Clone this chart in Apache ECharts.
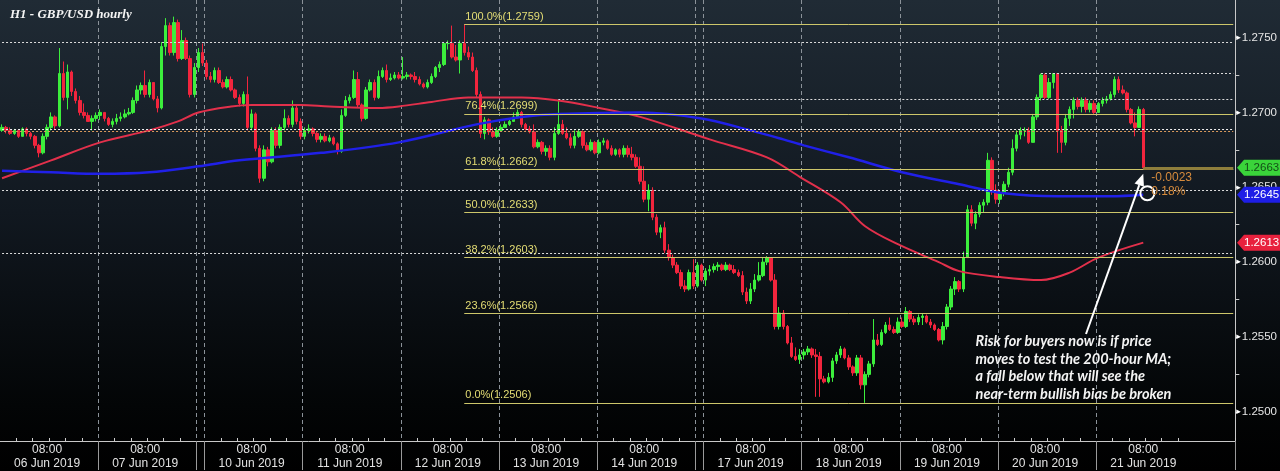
<!DOCTYPE html>
<html><head><meta charset="utf-8">
<script src="https://cdn.jsdelivr.net/npm/echarts@6/dist/echarts.min.js"></script>
<style>html,body{margin:0;padding:0;background:#000;}#c{width:1280px;height:471px;}</style>
</head><body><div id="c"></div>
<script>
// ---------------- data ----------------
const firstOpen = 1.2688;
const closes = [
1.2690,1.2688,1.2686,1.2688,1.2684,1.2689,1.2686,1.2684,1.2678,1.2673,1.2684,1.2690,1.2697,1.2691,1.2726,1.2710,1.2727,1.2714,1.2708,1.2700,1.2698,1.2694,1.2696,1.2698,
1.2700,1.2696,1.2692,1.2694,1.2696,1.2697,1.2699,1.2700,1.2708,1.2715,1.2718,1.2712,1.2720,1.2709,1.2703,1.2744,1.2758,1.2740,1.2760,1.2736,1.2748,1.2736,1.2712,1.2730,
1.2740,1.2733,
1.2724,1.2722,1.2728,1.2720,1.2717,1.2722,1.2715,1.2710,1.2706,1.2712,1.2690,1.2699,1.2676,1.2656,1.2675,1.2667,1.2688,1.2678,1.2690,1.2696,1.2692,1.2703,1.2694,1.2684,
1.2688,1.2689,1.2686,1.2682,1.2684,1.2681,1.2683,1.2679,1.2674,1.2698,1.2708,1.2710,1.2722,1.2705,1.2696,1.2715,1.2720,1.2710,1.2724,1.2728,1.2722,1.2723,1.2725,1.2723,
1.2724,1.2725,1.2724,1.2722,1.2719,1.2717,1.2720,1.2724,1.2730,1.2732,1.2746,1.2746,1.2737,1.2735,1.2746,1.2740,1.2737,1.2728,1.2712,1.2686,1.2695,1.2687,1.2684,1.2688,
1.2690,1.2692,1.2694,1.2697,1.2700,1.2692,1.2689,1.2687,1.2677,1.2680,1.2674,1.2676,1.2670,1.2686,1.2692,1.2686,1.2683,1.2678,1.2684,1.2687,1.2678,1.2675,1.2680,1.2673,
1.2680,1.2681,1.2676,1.2672,1.2675,1.2672,1.2676,1.2672,1.2670,1.2664,1.2654,1.2642,1.2648,1.2630,1.2620,1.2623,1.2608,1.2603,1.2598,1.2593,1.2584,1.2582,1.2593,1.2584,
1.2598,1.2588,
1.2594,1.2595,1.2597,1.2598,1.2595,1.2598,1.2595,1.2593,1.2591,1.2580,1.2574,1.2582,1.2588,1.2591,1.2600,1.2603,1.2588,1.2557,1.2566,1.2557,1.2546,1.2537,1.2535,1.2538,
1.2540,1.2542,1.2538,1.2537,1.2522,1.2520,1.2523,1.2534,1.2538,1.2542,1.2536,1.2530,1.2526,1.2536,1.2518,1.2525,1.2532,1.2548,1.2545,1.2553,1.2558,1.2555,1.2553,1.2560,
1.2557,1.2567,1.2562,1.2560,1.2563,1.2564,1.2560,1.2558,1.2555,1.2548,1.2557,1.2570,1.2582,1.2587,1.2582,1.2603,1.2635,1.2626,1.2632,1.2638,1.2640,1.2668,1.2648,1.2642,
1.2646,1.2652,1.2660,1.2676,1.2685,1.2688,1.2688,1.2680,1.2697,1.2710,1.2725,1.2710,1.2720,1.2726,1.2688,1.2680,1.2696,1.2702,1.2708,1.2704,1.2708,1.2702,1.2706,1.2700,
1.2706,1.2708,1.2709,1.2712,1.2722,1.2715,1.2713,1.2702,1.2693,1.2690,1.2702,1.2663
];
const highs = [
1.2692,1.2691,1.2690,1.2689,1.2688,1.2690,1.2690,1.2687,1.2685,1.2679,1.2686,1.2692,1.2700,1.2698,1.2743,1.2734,1.2732,1.2728,1.2716,1.2711,1.2706,1.2700,1.2698,1.2700,
1.2702,1.2700,1.2697,1.2696,1.2699,1.2700,1.2702,1.2703,1.2710,1.2718,1.2720,1.2728,1.2722,1.2720,1.2711,1.2747,1.2763,1.2760,1.2764,1.2762,1.2755,1.2750,1.2738,1.2733,
1.2743,1.2746,
1.2735,1.2727,1.2730,1.2730,1.2722,1.2724,1.2724,1.2716,1.2712,1.2714,1.2724,1.2702,1.2700,1.2678,1.2678,1.2677,1.2690,1.2690,1.2692,1.2702,1.2698,1.2708,1.2705,1.2696,
1.2690,1.2692,1.2690,1.2687,1.2686,1.2686,1.2685,1.2684,1.2680,1.2702,1.2711,1.2712,1.2728,1.2727,1.2706,1.2717,1.2722,1.2722,1.2728,1.2730,1.2732,1.2726,1.2727,1.2727,
1.2737,1.2727,1.2726,1.2727,1.2724,1.2720,1.2722,1.2726,1.2731,1.2734,1.2747,1.2748,1.2758,1.2745,1.2748,1.2759,1.2744,1.2740,1.2730,1.2714,1.2697,1.2696,1.2690,1.2690,
1.2692,1.2694,1.2696,1.2700,1.2702,1.2701,1.2693,1.2691,1.2692,1.2682,1.2681,1.2678,1.2678,1.2690,1.2708,1.2695,1.2690,1.2686,1.2688,1.2689,1.2688,1.2680,1.2682,1.2681,
1.2682,1.2683,1.2682,1.2678,1.2676,1.2676,1.2678,1.2678,1.2677,1.2672,1.2670,1.2664,1.2652,1.2650,1.2632,1.2625,1.2627,1.2612,1.2605,1.2600,1.2595,1.2588,1.2595,1.2602,
1.2600,1.2599,
1.2596,1.2598,1.2599,1.2600,1.2599,1.2600,1.2599,1.2598,1.2595,1.2594,1.2583,1.2586,1.2592,1.2600,1.2603,1.2604,1.2603,1.2592,1.2570,1.2568,1.2558,1.2550,1.2543,1.2542,
1.2542,1.2544,1.2543,1.2542,1.2540,1.2524,1.2526,1.2536,1.2540,1.2544,1.2543,1.2538,1.2531,1.2538,1.2538,1.2527,1.2534,1.2562,1.2552,1.2555,1.2560,1.2563,1.2557,1.2563,
1.2563,1.2570,1.2568,1.2564,1.2565,1.2566,1.2565,1.2562,1.2559,1.2556,1.2560,1.2572,1.2584,1.2590,1.2588,1.2607,1.2638,1.2638,1.2634,1.2640,1.2642,1.2673,1.2670,1.2652,
1.2648,1.2654,1.2663,1.2682,1.2688,1.2690,1.2690,1.2690,1.2699,1.2712,1.2726,1.2726,1.2723,1.2726,1.2726,1.2691,1.2699,1.2704,1.2710,1.2710,1.2710,1.2710,1.2708,1.2708,
1.2707,1.2710,1.2711,1.2714,1.2724,1.2724,1.2718,1.2714,1.2703,1.2700,1.2704,1.2703
];
const lows = [
1.2687,1.2686,1.2685,1.2685,1.2683,1.2684,1.2684,1.2682,1.2676,1.2670,1.2672,1.2682,1.2688,1.2689,1.2690,1.2708,1.2702,1.2711,1.2706,1.2698,1.2696,1.2694,1.2688,1.2694,
1.2695,1.2694,1.2691,1.2690,1.2692,1.2694,1.2696,1.2698,1.2699,1.2706,1.2712,1.2710,1.2710,1.2708,1.2700,1.2702,1.2738,1.2738,1.2738,1.2734,1.2735,1.2735,1.2710,1.2710,
1.2727,1.2731,
1.2722,1.2720,1.2720,1.2719,1.2716,1.2716,1.2714,1.2709,1.2704,1.2704,1.2688,1.2688,1.2674,1.2653,1.2654,1.2664,1.2666,1.2676,1.2676,1.2688,1.2690,1.2690,1.2692,1.2682,
1.2682,1.2686,1.2684,1.2680,1.2680,1.2680,1.2680,1.2678,1.2672,1.2673,1.2697,1.2706,1.2709,1.2703,1.2694,1.2695,1.2714,1.2708,1.2709,1.2723,1.2720,1.2721,1.2722,1.2722,
1.2722,1.2722,1.2722,1.2720,1.2718,1.2716,1.2716,1.2719,1.2723,1.2727,1.2731,1.2742,1.2736,1.2734,1.2726,1.2738,1.2735,1.2727,1.2710,1.2683,1.2682,1.2685,1.2683,1.2683,
1.2687,1.2690,1.2691,1.2694,1.2696,1.2690,1.2688,1.2686,1.2676,1.2676,1.2672,1.2671,1.2668,1.2668,1.2685,1.2685,1.2682,1.2676,1.2676,1.2683,1.2676,1.2674,1.2674,1.2672,
1.2672,1.2678,1.2675,1.2671,1.2671,1.2670,1.2670,1.2670,1.2668,1.2663,1.2652,1.2640,1.2634,1.2628,1.2618,1.2616,1.2606,1.2601,1.2596,1.2592,1.2582,1.2580,1.2581,1.2582,
1.2583,1.2587,
1.2584,1.2591,1.2593,1.2594,1.2594,1.2594,1.2594,1.2592,1.2590,1.2578,1.2572,1.2572,1.2580,1.2587,1.2590,1.2598,1.2587,1.2555,1.2555,1.2555,1.2545,1.2536,1.2534,1.2532,
1.2535,1.2538,1.2536,1.2510,1.2510,1.2519,1.2519,1.2520,1.2532,1.2536,1.2535,1.2528,1.2524,1.2524,1.2515,1.2506,1.2523,1.2530,1.2544,1.2544,1.2552,1.2554,1.2552,1.2552,
1.2556,1.2556,1.2560,1.2558,1.2558,1.2558,1.2559,1.2556,1.2554,1.2547,1.2545,1.2555,1.2568,1.2578,1.2580,1.2580,1.2603,1.2624,1.2622,1.2630,1.2633,1.2638,1.2645,1.2639,
1.2639,1.2644,1.2650,1.2658,1.2674,1.2682,1.2684,1.2679,1.2680,1.2695,1.2708,1.2709,1.2709,1.2716,1.2673,1.2673,1.2678,1.2691,1.2696,1.2702,1.2700,1.2700,1.2700,1.2699,
1.2700,1.2704,1.2706,1.2708,1.2710,1.2713,1.2712,1.2700,1.2692,1.2684,1.2690,1.2662
];
// moving averages read at key candles: [candle index, value]
const ma200 = [[0,1.2661],[12,1.2660],[24,1.2659],[36,1.2660],[48,1.2664],[58,1.2668],[78,1.2673],[97,1.2680],[116,1.2692],[127,1.2697],[136,1.2699],[156,1.2700],[171,1.2696],[183,1.2688],[191,1.2682],[196,1.2678],[207,1.2670],[220,1.2660],[234,1.2652],[245,1.2646],[258,1.2644],[271,1.2644],[279,1.2645]];
const ma100 = [[0,1.2656],[12,1.2668],[24,1.2680],[36,1.2688],[43,1.2694],[48,1.2700],[56,1.2704],[61,1.2705],[73,1.2705],[80,1.2704],[92,1.2703],[97,1.2704],[105,1.2707],[114,1.2710],[127,1.2710],[136,1.2708],[146,1.2703],[156,1.2697],[173,1.2682],[187,1.2670],[195,1.2657],[205,1.2640],[211,1.2624],[219,1.2612],[229,1.2600],[234,1.2594],[244,1.2590],[254,1.2588],[261,1.2593],[268,1.2603],[279,1.2613]];
const dayLabels = ['06 Jun 2019','07 Jun 2019','10 Jun 2019','11 Jun 2019','12 Jun 2019','13 Jun 2019','14 Jun 2019','17 Jun 2019','18 Jun 2019','19 Jun 2019','20 Jun 2019','21 Jun 2019'];
const hourLabel = '08:00';
const dayLabelIdx = [11,35,61,85,109,133,157,183,207,231,255,279];
const daySeparators = [24,48,50,74,98,122,146,170,172,196,220,244,268];
const dayStarts = [0,24,50,74,98,122,146,172,196,220,244,268];
const slotCount = 302;
const fibNames = ['100.0%','76.4%','61.8%','50.0%','38.2%','23.6%','0.0%'];
const fibValues = [1.2759,1.2699,1.2662,1.2633,1.2603,1.2566,1.2506];
const fibStart = 113;
const guideValues = [1.27466,1.27265,1.27085,1.26478,1.26058];
const guideStarts = [0,254,136,0,0];
const hatchValue = 1.26879;
const lastPrice = 1.2663, ma200Last = 1.2645, ma100Last = 1.2613;
const changeText = '-0.0023\n0.18%';
const yLabelValues = [1.2500,1.2550,1.2600,1.2650,1.2700,1.2750];
const yTickValues = [1.2500,1.2525,1.2550,1.2575,1.2600,1.2625,1.2650,1.2675,1.2700,1.2725,1.2750];
const titleText = 'H1 - GBP/USD hourly';
const noteText = 'Risk for buyers now is if price\nmoves to test the 200-hour MA;\na fall below that will see the\nnear-term bullish bias be broken';

// ---------------- build ----------------
const chart = echarts.init(document.getElementById('c'));
const cats = Array.from({length: slotCount}, (_, i) => String(i));
const opens = [firstOpen].concat(closes.slice(0, closes.length - 1));
const candleData = cats.map((_, i) => i < closes.length ? [opens[i], closes[i], lows[i], highs[i]] : '-');
const sepSet = new Set(daySeparators);
const labelMap = new Map(dayLabelIdx.map((d, k) => [d, k]));
const minorSet = new Set();
dayStarts.forEach(s => { for (let k = 1; k < 6; k++) minorSet.add(s + 4 * k); });

const fibLines = fibValues.map((v, k) => [
  {coord: [fibStart, v], lineStyle: {color: '#cdc66a', width: 1, type: 'solid'},
   label: {show: true, position: 'insideStartTop', distance: [1, 2], formatter: fibNames[k] + '(' + v.toFixed(4) + ')',
           color: '#e4dd74', fontSize: 11, fontFamily: 'Liberation Sans'}},
  {coord: [slotCount - 1, v]}
]);
const guideLines = guideValues.map((v, k) => [
  {coord: [guideStarts[k], v], lineStyle: {color: '#dcdcdc', width: 1, type: [2, 2]}, label: {show: false}},
  {coord: [slotCount - 1, v]}
]);
const hatch = [
  [{coord: [0, hatchValue + 0.00007], lineStyle: {color: '#f0f0f0', width: 1, type: [2, 2]}, label: {show: false}}, {coord: [slotCount - 1, hatchValue + 0.00007]}],
  [{coord: [0, hatchValue - 0.00007], lineStyle: {color: '#d99a5c', width: 1, type: [2, 2], dashOffset: 2}, label: {show: false}}, {coord: [slotCount - 1, hatchValue - 0.00007]}]
];
const priceLine = [[{coord: [closes.length - 1, lastPrice], lineStyle: {color: '#8e7e3c', width: 3, type: 'solid'}, label: {show: false}}, {coord: [slotCount - 1, lastPrice]}]];

chart.setOption({
  animation: false,
  backgroundColor: {type: 'linear', x: 0, y: 0, x2: 0, y2: 1,
    colorStops: [{offset: 0, color: '#202b35'}, {offset: 0.45, color: '#111820'}, {offset: 0.86, color: '#030506'}, {offset: 1, color: '#000000'}]},
  title: {text: titleText, left: 5, top: 3,
    textStyle: {color: '#f4f4f4', fontSize: 13, fontStyle: 'italic', fontWeight: 'bold', fontFamily: 'Liberation Serif'}},
  grid: {left: 0, right: 44, top: 0, bottom: 29},
  xAxis: [{
    type: 'category', data: cats, boundaryGap: true,
    axisLine: {lineStyle: {color: '#c8c8c8', width: 1}},
    axisTick: {show: true, interval: (i) => sepSet.has(i), length: 29, lineStyle: {color: '#9a9a9a'}},
    axisLabel: {interval: (i) => labelMap.has(i), color: '#e2e2e2', fontFamily: 'Liberation Sans', fontSize: 12, lineHeight: 14, margin: 2,
      formatter: (v, i) => labelMap.has(i) ? hourLabel + '\n' + dayLabels[labelMap.get(i)] : ''},
    splitLine: {show: true, interval: (i) => sepSet.has(i), lineStyle: {color: '#8b9299', type: [4, 3], width: 1}}
  }, {
    type: 'category', data: cats, boundaryGap: true, position: 'bottom',
    axisLine: {show: false},
    axisTick: {show: true, interval: (i) => minorSet.has(i), length: 3, inside: true, lineStyle: {color: '#cfcfcf'}},
    axisLabel: {show: false}, splitLine: {show: false}
  }],
  yAxis: {
    type: 'value', position: 'right', min: 1.24805, max: 1.27751, scale: true,
    axisLine: {show: true, lineStyle: {color: '#c8c8c8'}},
    axisTick: {show: true, customValues: yTickValues, length: 4, lineStyle: {color: '#c8c8c8'}},
    axisLabel: {customValues: yLabelValues, margin: 1,
      formatter: (v) => '{t|\u25B8}{v|' + v.toFixed(4) + '}',
      rich: {t: {fontSize: 9, color: '#ffffff', padding: [0, 1, 0, 0], fontFamily: 'DejaVu Sans'},
             v: {fontSize: 11.5, color: '#e6e6e6', fontFamily: 'Liberation Sans'}}},
    splitLine: {show: false}
  },
  series: [{
    type: 'candlestick', data: candleData, barMaxWidth: 3, barWidth: 3,
    itemStyle: {color: '#3cee3c', color0: '#f2253d', borderColor: '#3cee3c', borderColor0: '#f2253d', borderWidth: 1},
    markLine: {silent: true, symbol: ['none', 'none'], animation: false, precision: 5,
      data: [].concat(guideLines, hatch, fibLines, priceLine)}
  }, {
    type: 'line', data: ma100, smooth: 0.35, showSymbol: false, symbol: 'none', z: 4,
    lineStyle: {color: '#e2304b', width: 2}
  }, {
    type: 'line', data: ma200, smooth: 0.35, showSymbol: false, symbol: 'none', z: 4,
    lineStyle: {color: '#2020e8', width: 2.5}
  }]
});

// --------------- overlays anchored through the axes ---------------
function px(i, v) { return chart.convertToPixel({xAxisIndex: 0, yAxisIndex: 0}, [i, v]); }
const gx = chart.getWidth() - 44;
const W = chart.getWidth();
function tag(v, fill, txt) {
  const y = px(0, v)[1];
  return [
    {type: 'polygon', z: 100, shape: {points: [[gx + 1, y], [gx + 8, y - 8], [W, y - 8], [W, y + 8], [gx + 8, y + 8]]}, style: {fill: fill}},
    {type: 'text', z: 101, x: gx + 8, y: y, style: {text: v.toFixed(4), fill: txt, font: '11.5px "Liberation Sans"', align: 'left', verticalAlign: 'middle'}}
  ];
}
const tail = px(265, 1.2552), tip = px(closes.length - 1, 1.2659);
const dx = tip[0] - tail[0], dy = tip[1] - tail[1], L = Math.hypot(dx, dy), ux = dx / L, uy = dy / L;
const hl = 12, hw = 5, bx = tip[0] - ux * hl, by = tip[1] - uy * hl;
const ring = px(closes.length, 1.2646);
const chg = px(closes.length - 1, 1.2661);
const note = px(238, 1.2553);
chart.setOption({graphic: [].concat(
  tag(lastPrice, '#3ad43a', '#144d18'),
  tag(ma200Last, '#1e1ee6', '#ffffff'),
  tag(ma100Last, '#e8213d', '#ffffff'),
  [
    {type: 'line', z: 60, shape: {x1: tail[0], y1: tail[1], x2: bx, y2: by}, style: {stroke: '#ffffff', lineWidth: 2}},
    {type: 'polygon', z: 60, shape: {points: [[tip[0], tip[1]], [bx - uy * hw, by + ux * hw], [bx + uy * hw, by - ux * hw]]}, style: {fill: '#ffffff'}},
    {type: 'circle', z: 60, shape: {cx: ring[0], cy: ring[1], r: 7}, style: {fill: 'none', stroke: '#ffffff', lineWidth: 2}},
    {type: 'text', z: 61, x: chg[0] + 8, y: chg[1], style: {text: changeText, fill: '#d68b3c', font: '12px "Liberation Sans"', lineHeight: 14, verticalAlign: 'top'}},
    {type: 'text', z: 60, x: note[0], y: note[1], style: {text: noteText, fill: '#f4f4f4', font: 'italic bold 14.5px Lato', lineHeight: 17.7, verticalAlign: 'top'}}
  ]
)});
</script>
</body></html>
